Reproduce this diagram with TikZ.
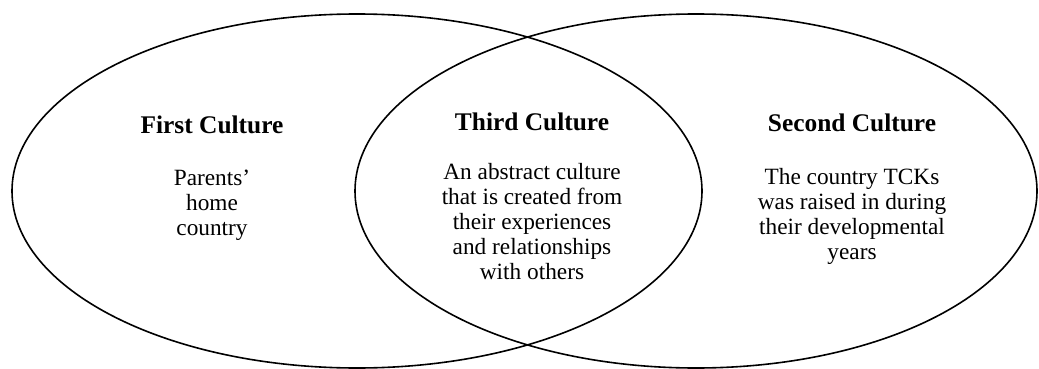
\documentclass[tikz,border=0pt]{standalone}
\usepackage{fontspec}
\setmainfont{Liberation Serif}
\begin{document}
\begin{tikzpicture}[x=1pt,y=-1pt,
  ring/.style={draw=black,line width=1.6pt},
  heading/.style={font=\fontsize{25.4}{27}\selectfont\bfseries,inner sep=0pt},
  body/.style={font=\fontsize{23.3}{25}\selectfont,align=center,inner sep=0pt}]
  \useasboundingbox (0,0) rectangle (1039,369);
  \clip (0,0) rectangle (1039,369);
  % the two overlapping cultures
  \draw[ring] (357,191) ellipse [x radius=345,y radius=177];
  \draw[ring] (696,191) ellipse [x radius=341,y radius=177];
  % first culture
  \node[heading] (t1) at (212,125) {First Culture};
  \node[body] (b1) at (212,205) {Parents'\\home\\country};
  % third culture (overlap)
  \node[heading] (t3) at (532,122) {Third Culture};
  \node[body] (b3) at (532,222) {An abstract culture\\that is created from\\their experiences\\and relationships\\with others};
  % second culture
  \node[heading] (t2) at (852,123) {Second Culture};
  \node[body] (b2) at (852,216) {The country TCKs\\was raised in during\\their developmental\\years};
\end{tikzpicture}
\end{document}
